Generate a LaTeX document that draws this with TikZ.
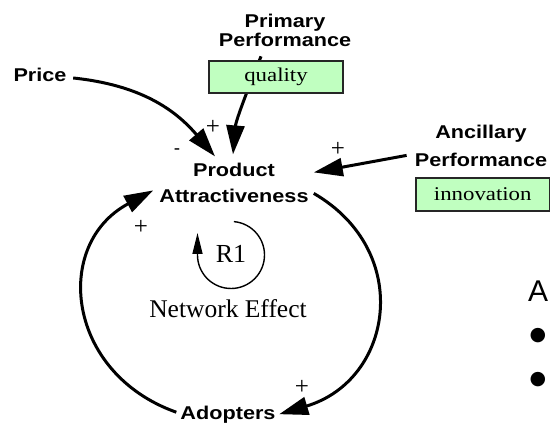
\documentclass[tikz,border=0pt]{standalone}
\usepackage{fontspec}
\usetikzlibrary{arrows.meta}
\newfontfamily\labfont[FakeStretch=1.17]{Liberation Sans}
\newfontfamily\plainsans{Liberation Sans}
\newfontfamily\serfont{Liberation Serif}
\newfontfamily\boxfont[FakeStretch=1.17]{Liberation Serif}
\newfontfamily\dotfont{DejaVu Sans}
\definecolor{boxgreen}{RGB}{192,255,192}
\tikzset{
  var/.style={inner sep=0pt, align=center, font=\labfont\bfseries\fontsize{18.5}{19.5}\selectfont},
  varwide/.style={var, font=\labfont\bfseries\fontsize{18.5}{26}\selectfont},
  varwider/.style={var, font=\labfont\bfseries\fontsize{18.5}{28}\selectfont},
  gbox/.style={draw=black!85, line width=1.2pt, fill=boxgreen, inner sep=0pt,
    minimum height=32pt, font=\boxfont\fontsize{19.5}{22}\selectfont},
  link/.style={line width=3pt, -{Triangle[length=29pt,width=18pt]}},
  loopline/.style={line width=1.4pt, -{Triangle[length=21pt,width=10pt]}},
  sign/.style={inner sep=0pt, font=\serfont\fontsize{25}{27}\selectfont},
  minus/.style={inner sep=0pt, font=\plainsans\fontsize{19}{20}\selectfont},
  slide/.style={inner sep=0pt, font=\plainsans\fontsize{30}{36}\selectfont},
  bul/.style={inner sep=0pt, font=\dotfont\fontsize{19}{22}\selectfont}
}
\begin{document}
\begin{tikzpicture}[x=1pt,y=-1pt]
\useasboundingbox (0,0) rectangle (550,427);
% variables
\node[var, anchor=base] (price) at (40,82) {Price};
\node[var] (pp) at (285,30.6) {Primary\\Performance};
\node[varwide] (pa) at (234,182.4) {Product\\Attractiveness};
\node[varwider] (anc) at (481,145.4) {Ancillary\\Performance};
\node[var, anchor=base] (ad) at (228,420) {Adopters};
% links
\draw[link] ([shift={(6.5,2.6)}]price.east) .. controls +(67,7) and +(-40,-47) .. ([shift={(-19,-6)}]pa.north);
\draw[link] ([shift={(-24,9)}]pp.south) .. controls +(-10,25) and +(3,-35) .. ([shift={(-1,-8)}]pa.north);
\node[gbox, minimum width=134pt] (quality) at (276,77) {quality};
\node[gbox, minimum width=133.5pt, minimum height=33pt] (innov) at (482.75,194.5) {innovation};
\draw[link] ([shift={(-8,10)}]anc.west) -- ([shift={(5,-10)}]pa.east);
\draw[link] ([shift={(5,11)}]pa.east) .. controls +(100,58) and +(114,-34) .. ([shift={(3.5,-1)}]ad.east);
\draw[link] ([shift={(-4,-3)}]ad.west) .. controls +(-110,-39) and +(-101,54) .. ([shift={(-6,8)}]pa.west);
% polarity signs
\node[sign] (s1) at (213,127) {+};
\node[minus] (s2) at (177,152) {-};
\node[sign] (s3) at (338,149) {+};
\node[sign] (s4) at (141,227) {+};
\node[sign] (s5) at (302,387) {+};
% loop identifier
\draw[loopline] (231,255) ++(-85:33.5) arc[start angle=-85, end angle=180, radius=33.5] -- ++(0,-22);
\node[inner sep=0pt, anchor=base, font=\serfont\fontsize{26}{30}\selectfont] (r1) at (231,263) {R1};
\node[inner sep=0pt, anchor=base, font=\serfont\fontsize{25.5}{30}\selectfont] (ne) at (228,318) {Network Effect};
% cut-off slide text
\node[slide, anchor=base west] (ahead) at (528,302) {A};
\node[bul] (b1) at (538,336) {●};
\node[bul] (b2) at (538,380) {●};
\end{tikzpicture}
\end{document}
